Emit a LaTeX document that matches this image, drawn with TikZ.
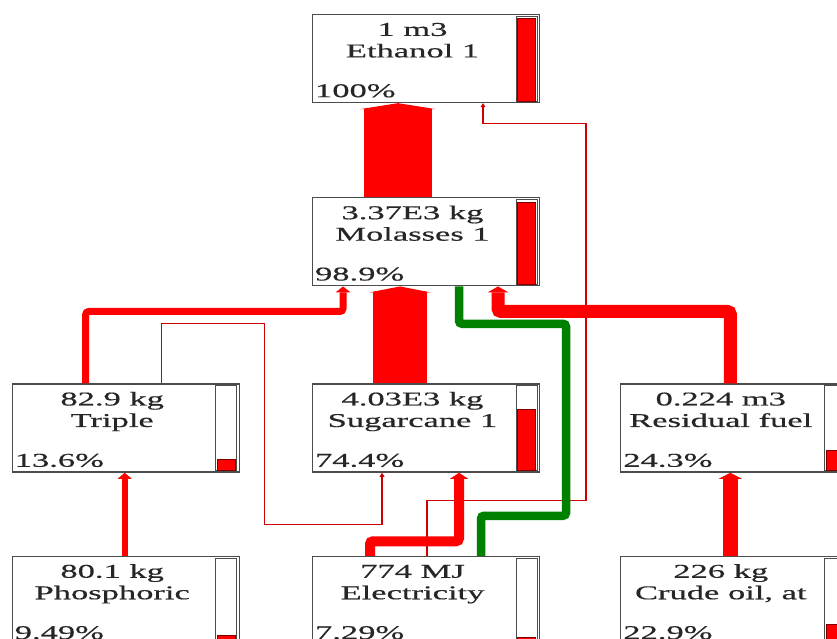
\documentclass[tikz,border=0pt]{standalone}
\usepackage{fontspec}
\setmainfont{Liberation Serif}[FakeStretch=1.77, FakeBold=0.5]
\usepackage{xcolor}
\usetikzlibrary{arrows.meta, positioning, calc}

\begin{document}
\begin{tikzpicture}[
  x=1pt, y=-1pt,
  node distance=94pt and 72pt,
  box/.style={rectangle, draw=black!70, line width=1.3pt, fill=white, minimum width=227pt, minimum height=88pt, inner sep=0pt},
  txt/.style={font=\fontsize{19.5}{21}\selectfont, text=black!85, inner sep=0pt},
  barframe/.style={draw=black!70, line width=1pt, fill=white},
  barfill/.style={draw=red!50!black, line width=0.7pt, fill=red},
  flow/.style={draw=red, rounded corners=3pt, -{Triangle[length=6pt, width=8pt 1, line width=0pt]}},
  thinflow/.style={draw=red!80!black, line width=1.1pt, -{Triangle[length=4pt, width=4pt 1, line width=0pt]}},
  gas/.style={draw=green!50!black, rounded corners=3pt},
]
  \useasboundingbox (0,0) rectangle (837,639);
  \clip (0,0) rectangle (837,639);

  \node[box] (ethanol) at (426,58.5) {};
  \node[box, below=of ethanol] (molasses) {};
  \node[box, below=97pt of molasses] (sugarcane) {};
  \node[box, left=of sugarcane] (triple) {};
  \node[box, right=80pt of sugarcane] (resid) {};
  \node[box, below=83pt of sugarcane] (elec) {};
  \node[box, below=83pt of triple] (phos) {};
  \node[box, below=83pt of resid] (crude) {};

  % amounts, names, shares
  \foreach \n/\amt/\nm/\pc in {ethanol/1 m3/Ethanol 1/100, molasses/3.37E3 kg/Molasses 1/98.9,
      triple/82.9 kg/Triple/13.6, sugarcane/4.03E3 kg/Sugarcane 1/74.4, resid/0.224 m3/Residual fuel/24.3,
      phos/80.1 kg/Phosphoric/9.49, elec/774 MJ/Electricity/7.29, crude/226 kg/{Crude oil, at}/22.9} {
    \node[txt, anchor=base] (\n-amt) at ($(\n.north)+(-13.5,22)$) {\amt};
    \node[txt, anchor=base] (\n-nm) at ($(\n.north)+(-13.5,43.5)$) {\nm};
    \node[txt, anchor=base west] (\n-pc) at ($(\n.south west)+(3,-6)$) {\pc\%};
    \draw[barframe] ($(\n.north east)+(-24,2.5)$) rectangle ($(\n.south east)+(-3,-2)$);
    \draw[barfill] ($(\n.south east)+(-22.5,-2)$) rectangle ($(\n.south east)+(-4.5,{-2-0.83*\pc})$);
  }

  % thin links
  \draw[thinflow] ($(triple.north)+(36,0)$) -- ++(0,-60) -| ++(103,201) -| ($(sugarcane.south)+(-44,0)$);
  \draw[thinflow] ($(elec.north)+(1,0)$) -- ++(0,-55) -| ++(159,-377) -| ($(ethanol.south)+(57,0)$);

  % flows
  \draw[flow, line width=68pt] ($(molasses.north)+(-28,0)$) -- ($(ethanol.south)+(-28,0)$);
  \draw[flow, line width=54pt] ($(sugarcane.north)+(-26,0)$) -- ($(molasses.south)+(-26,0)$);
  \draw[flow, line width=7pt] ($(triple.north)+(-40,0)$) |- ($(molasses.south)+(-83,25)$) -- ($(molasses.south)+(-83,0)$);
  \draw[flow, line width=13pt] ($(resid.north)+(-4,0)$) -- ++(0,-72) -| ($(molasses.south)+(72,0)$);
  \draw[flow, line width=10pt] ($(elec.north)+(-56,0)$) -- ++(0,-14.5) -| ($(sugarcane.south)+(33,0)$);
  \draw[flow, line width=6pt] ($(phos.north)+(-1,0)$) -- ($(triple.south)+(-1,0)$);
  \draw[flow, line width=15pt] ($(crude.north)+(-4,0)$) -- ($(resid.south)+(-4,0)$);
  \draw[gas, line width=8.5pt] ($(elec.north)+(55,0)$) -- ++(0,-40) -| ++(85,-192) -| ($(molasses.south)+(33,0)$);
\end{tikzpicture}
\end{document}
